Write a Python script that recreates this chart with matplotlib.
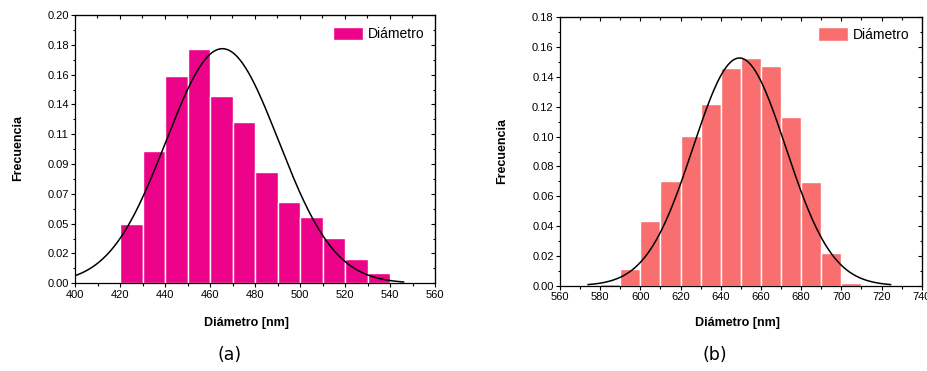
import numpy as np
import matplotlib
matplotlib.use("Agg")
import matplotlib.pyplot as plt
from matplotlib.ticker import MultipleLocator, FixedLocator

plt.rcParams['font.family'] = ['Liberation Sans', 'DejaVu Sans']

# ---- data (a) ----
bins_a = [410, 420, 430, 440, 450, 460, 470, 480, 490, 500, 510, 520, 530]
freq_a = [0.0012, 0.0442, 0.0986, 0.1543, 0.1749, 0.1399, 0.1205, 0.0827,
          0.0606, 0.0492, 0.0338, 0.0184, 0.0080]
fit_a = dict(mu=465.5, sigma=25.0, peak=0.1749, xmin=385, xmax=546)
yticks_a_labels = ['0.00', '0.02', '0.05', '0.07', '0.09', '0.11', '0.14', '0.16', '0.18', '0.20']

# ---- data (b) ----
bins_b = [580, 590, 600, 610, 620, 630, 640, 650, 660, 670, 680, 690, 700]
freq_b = [0.0011, 0.0112, 0.0434, 0.0702, 0.1002, 0.1221, 0.1458, 0.1527,
          0.1474, 0.1134, 0.0698, 0.0219, 0.0020]
fit_b = dict(mu=649.3, sigma=23.1, peak=0.1527, xmin=574, xmax=724.5)

col_a = '#EC038A'
col_b = '#F96F6F'

fig = plt.figure(figsize=(9.27, 3.71), dpi=100)
W, H = 927, 371

def axes_px(x0, x1, ytop, ybot):
    return fig.add_axes([x0 / W, 1 - ybot / H, (x1 - x0) / W, (ybot - ytop) / H])

axA = axes_px(75, 435, 15, 283.3)
axB = axes_px(560, 921.7, 17.3, 285.7)

def style(ax):
    ax.tick_params(which='both', direction='out', labelsize=8, width=0.8, pad=1.5)
    ax.tick_params(which='major', length=3)
    ax.tick_params(which='minor', length=1.8)
    for s in ax.spines.values():
        s.set_linewidth(0.9)
    top = ax.secondary_xaxis('top')
    top.tick_params(which='both', direction='in', labeltop=False, width=0.8)
    top.tick_params(which='major', length=3)
    top.tick_params(which='minor', length=1.8)
    top.xaxis.set_major_locator(ax.xaxis.get_major_locator())
    top.xaxis.set_minor_locator(ax.xaxis.get_minor_locator())
    top.set_xticklabels([])
    right = ax.secondary_yaxis('right')
    right.tick_params(which='both', direction='in', labelright=False, width=0.8)
    right.tick_params(which='major', length=3)
    right.tick_params(which='minor', length=1.8)
    right.yaxis.set_major_locator(ax.yaxis.get_major_locator())
    right.yaxis.set_minor_locator(ax.yaxis.get_minor_locator())
    right.set_yticklabels([])

def gauss(fit):
    x = np.linspace(fit['xmin'], fit['xmax'], 400)
    y = fit['peak'] * np.exp(-(x - fit['mu']) ** 2 / (2 * fit['sigma'] ** 2))
    return x, y

# Panel (a)
axA.bar(bins_a, freq_a, width=10, align='edge', color=col_a, edgecolor='white',
        linewidth=1.0, label='Diámetro', zorder=2)
xa, ya = gauss(fit_a)
axA.plot(xa, ya, color='black', lw=1.1, zorder=3)
axA.set_xlim(400, 560)
axA.set_ylim(0, 0.2)
axA.xaxis.set_major_locator(MultipleLocator(20))
axA.xaxis.set_minor_locator(MultipleLocator(10))
ya_ticks = np.linspace(0, 0.2, 10)
axA.yaxis.set_major_locator(FixedLocator(ya_ticks))
axA.yaxis.set_minor_locator(FixedLocator((ya_ticks[:-1] + ya_ticks[1:]) / 2))
axA.set_yticklabels(yticks_a_labels)
style(axA)
axA.legend(loc='upper left', bbox_to_anchor=((333 - 75) / 360, (283.3 - 27) / 268.3),
           frameon=False, fontsize=10, handlelength=2.15, handleheight=1.1,
           handletextpad=0.35, borderpad=0, borderaxespad=0)

# Panel (b)
axB.bar(bins_b, freq_b, width=10, align='edge', color=col_b, edgecolor='white',
        linewidth=1.0, label='Diámetro', zorder=2)
xb, yb = gauss(fit_b)
axB.plot(xb, yb, color='black', lw=1.1, zorder=3)
axB.set_xlim(560, 740)
axB.set_ylim(0, 0.18)
axB.xaxis.set_major_locator(MultipleLocator(20))
axB.xaxis.set_minor_locator(MultipleLocator(10))
axB.yaxis.set_major_locator(MultipleLocator(0.02))
axB.yaxis.set_minor_locator(MultipleLocator(0.01))
axB.yaxis.set_major_formatter(matplotlib.ticker.FormatStrFormatter('%.2f'))
style(axB)
axB.legend(loc='upper left', bbox_to_anchor=((817.7 - 560) / 361.7, (285.7 - 27.3) / 268.4),
           frameon=False, fontsize=10, handlelength=2.15, handleheight=1.1,
           handletextpad=0.35, borderpad=0, borderaxespad=0)

# labels
fig.text(246 / W, 1 - 323 / H, 'Diámetro [nm]', ha='center', va='center',
         fontsize=9, fontweight='bold')
fig.text(737.5 / W, 1 - 323 / H, 'Diámetro [nm]', ha='center', va='center',
         fontsize=9, fontweight='bold')
fig.text(18 / W, 1 - 148 / H, 'Frecuencia', ha='center', va='center',
         rotation=90, fontsize=9, fontweight='bold')
fig.text(502 / W, 1 - 151 / H, 'Frecuencia', ha='center', va='center',
         rotation=90, fontsize=9, fontweight='bold')
fig.text(230 / W, 1 - 355 / H, '(a)', ha='center', va='center', fontsize=12.5,
         family=['DejaVu Sans'])
fig.text(715 / W, 1 - 355 / H, '(b)', ha='center', va='center', fontsize=12.5,
         family=['DejaVu Sans'])

fig.savefig('out.png', dpi=100)
